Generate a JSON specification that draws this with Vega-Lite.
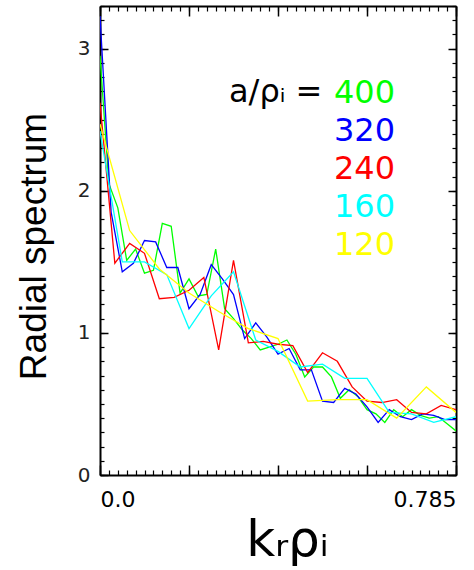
{
  "$schema": "https://vega.github.io/schema/vega-lite/v6.json",
  "width": 356,
  "height": 469,
  "autosize": {"type": "none"},
  "padding": {"left": 100, "top": 6, "right": 18, "bottom": 95},
  "background": "white",
  "config": {
    "view": {"stroke": null},
    "axis": {"domainColor": "black", "tickColor": "black", "domainWidth": 2, "tickWidth": 1.5, "grid": false, "labelFont": "DejaVu Sans", "titleFont": "Liberation Sans", "labelColor": "black", "titleColor": "black", "titleFontWeight": "normal"},
    "legend": {"labelFont": "DejaVu Sans", "titleFont": "DejaVu Sans"}
  },
  "data": {"values": [
    {"a":"400","k":0,"s":2.95},{"a":"400","k":0.0196,"s":2.05},{"a":"400","k":0.0393,"s":1.88},{"a":"400","k":0.0589,"s":1.51},{"a":"400","k":0.0785,"s":1.59},{"a":"400","k":0.0981,"s":1.42},{"a":"400","k":0.1178,"s":1.44},{"a":"400","k":0.1374,"s":1.77},{"a":"400","k":0.157,"s":1.75},{"a":"400","k":0.1766,"s":1.28},{"a":"400","k":0.1963,"s":1.38},{"a":"400","k":0.2159,"s":1.26},{"a":"400","k":0.2355,"s":1.27},{"a":"400","k":0.2551,"s":1.59},{"a":"400","k":0.2748,"s":1.17},{"a":"400","k":0.2944,"s":1.10},{"a":"400","k":0.314,"s":1.02},{"a":"400","k":0.3336,"s":0.96},{"a":"400","k":0.3533,"s":0.88},{"a":"400","k":0.3729,"s":0.90},{"a":"400","k":0.3925,"s":0.92},{"a":"400","k":0.4121,"s":0.95},{"a":"400","k":0.4318,"s":0.85},{"a":"400","k":0.4514,"s":0.69},{"a":"400","k":0.471,"s":0.76},{"a":"400","k":0.4906,"s":0.76},{"a":"400","k":0.5103,"s":0.69},{"a":"400","k":0.5299,"s":0.54},{"a":"400","k":0.5495,"s":0.60},{"a":"400","k":0.5691,"s":0.55},{"a":"400","k":0.5888,"s":0.46},{"a":"400","k":0.6084,"s":0.43},{"a":"400","k":0.628,"s":0.37},{"a":"400","k":0.6476,"s":0.46},{"a":"400","k":0.6673,"s":0.41},{"a":"400","k":0.6869,"s":0.46},{"a":"400","k":0.7065,"s":0.42},{"a":"400","k":0.7261,"s":0.40},{"a":"400","k":0.7458,"s":0.41},{"a":"400","k":0.7654,"s":0.36},{"a":"400","k":0.785,"s":0.31},
    {"a":"320","k":0,"s":3.23},{"a":"320","k":0.0245,"s":1.85},{"a":"320","k":0.0491,"s":1.43},{"a":"320","k":0.0736,"s":1.49},{"a":"320","k":0.0981,"s":1.65},{"a":"320","k":0.1227,"s":1.64},{"a":"320","k":0.1472,"s":1.46},{"a":"320","k":0.1717,"s":1.46},{"a":"320","k":0.1963,"s":1.17},{"a":"320","k":0.2208,"s":1.27},{"a":"320","k":0.2453,"s":1.48},{"a":"320","k":0.2698,"s":1.38},{"a":"320","k":0.2944,"s":1.27},{"a":"320","k":0.3189,"s":0.96},{"a":"320","k":0.3434,"s":1.07},{"a":"320","k":0.368,"s":0.97},{"a":"320","k":0.3925,"s":0.85},{"a":"320","k":0.417,"s":0.89},{"a":"320","k":0.4416,"s":0.74},{"a":"320","k":0.4661,"s":0.74},{"a":"320","k":0.4906,"s":0.52},{"a":"320","k":0.5152,"s":0.51},{"a":"320","k":0.5397,"s":0.61},{"a":"320","k":0.5642,"s":0.57},{"a":"320","k":0.5888,"s":0.48},{"a":"320","k":0.6133,"s":0.37},{"a":"320","k":0.6378,"s":0.46},{"a":"320","k":0.6623,"s":0.41},{"a":"320","k":0.6869,"s":0.39},{"a":"320","k":0.7114,"s":0.43},{"a":"320","k":0.7359,"s":0.42},{"a":"320","k":0.7605,"s":0.39},{"a":"320","k":0.785,"s":0.39},
    {"a":"240","k":0,"s":2.62},{"a":"240","k":0.0327,"s":1.49},{"a":"240","k":0.0654,"s":1.63},{"a":"240","k":0.0981,"s":1.56},{"a":"240","k":0.1308,"s":1.24},{"a":"240","k":0.1635,"s":1.25},{"a":"240","k":0.1963,"s":1.30},{"a":"240","k":0.229,"s":1.39},{"a":"240","k":0.2617,"s":0.88},{"a":"240","k":0.2944,"s":1.51},{"a":"240","k":0.3271,"s":0.93},{"a":"240","k":0.3598,"s":0.94},{"a":"240","k":0.3925,"s":0.92},{"a":"240","k":0.4252,"s":0.91},{"a":"240","k":0.4579,"s":0.72},{"a":"240","k":0.4906,"s":0.86},{"a":"240","k":0.5233,"s":0.80},{"a":"240","k":0.556,"s":0.62},{"a":"240","k":0.5888,"s":0.52},{"a":"240","k":0.6215,"s":0.51},{"a":"240","k":0.6542,"s":0.53},{"a":"240","k":0.6869,"s":0.44},{"a":"240","k":0.7196,"s":0.43},{"a":"240","k":0.7523,"s":0.49},{"a":"240","k":0.785,"s":0.46},
    {"a":"160","k":0,"s":2.42},{"a":"160","k":0.0491,"s":1.50},{"a":"160","k":0.0981,"s":1.50},{"a":"160","k":0.1472,"s":1.41},{"a":"160","k":0.1963,"s":1.03},{"a":"160","k":0.2453,"s":1.26},{"a":"160","k":0.2944,"s":1.43},{"a":"160","k":0.3434,"s":0.95},{"a":"160","k":0.3925,"s":0.87},{"a":"160","k":0.4416,"s":0.76},{"a":"160","k":0.4906,"s":0.78},{"a":"160","k":0.5397,"s":0.68},{"a":"160","k":0.5888,"s":0.68},{"a":"160","k":0.6378,"s":0.44},{"a":"160","k":0.6869,"s":0.43},{"a":"160","k":0.7359,"s":0.37},{"a":"160","k":0.785,"s":0.41},
    {"a":"120","k":0,"s":2.47},{"a":"120","k":0.0654,"s":1.72},{"a":"120","k":0.1308,"s":1.45},{"a":"120","k":0.1963,"s":1.28},{"a":"120","k":0.2617,"s":1.15},{"a":"120","k":0.3271,"s":1.03},{"a":"120","k":0.3925,"s":0.96},{"a":"120","k":0.4579,"s":0.52},{"a":"120","k":0.5233,"s":0.53},{"a":"120","k":0.5888,"s":0.53},{"a":"120","k":0.6542,"s":0.40},{"a":"120","k":0.7196,"s":0.62},{"a":"120","k":0.785,"s":0.44}
  ]},
  "resolve": {"axis": {"x": "independent", "y": "independent"}},
  "layer": [
    {
      "mark": {"type": "line", "strokeWidth": 1.3, "clip": true},
      "encoding": {
        "x": {"field": "k", "type": "quantitative", "scale": {"domain": [0, 0.785], "nice": false, "zero": false},
          "axis": {"orient": "bottom", "values": [0, 0.19625, 0.3925, 0.58875, 0.785], "tickSize": -10, "labelPadding": 24, "labelFontSize": 22, "labelFlush": true, "labelFlushOffset": 0,
            "labelExpr": "datum.value == 0 ? '0.0' : (datum.value > 0.78 ? '0.785' : '')",
            "title": "kᵣρᵢ", "titleFont": "DejaVu Sans", "titleFontSize": 50, "titleX": 187, "titleY": 80, "titleBaseline": "alphabetic"}},
        "y": {"field": "s", "type": "quantitative", "scale": {"domain": [0, 3.3], "nice": false},
          "axis": {"orient": "left", "values": [0, 1, 2, 3], "tickSize": -8, "labelPadding": 18, "labelFontSize": 20, "labelBaseline": "middle", "labelColor": "#222222",
            "title": "Radial spectrum", "titleFontSize": 37, "titleX": -55, "titleY": 240, "titleBaseline": "alphabetic", "titleAngle": -90}},
        "color": {"field": "a", "type": "nominal", "sort": null,
          "scale": {"domain": ["400", "320", "240", "160", "120"], "range": ["#00ff00", "#0000ff", "#ff0000", "#00ffff", "#ffff00"]},
          "legend": {"orient": "none", "legendX": 129, "legendY": 71, "title": "a/ρᵢ =", "titleOrient": "left", "titleAnchor": "start", "titleBaseline": "top", "titleFontSize": 32, "titleFontWeight": "normal", "titleColor": "black", "titlePadding": -21,
            "labelFontSize": 32, "symbolSize": 0, "symbolStrokeWidth": 0, "symbolOpacity": 0, "labelOffset": 0, "rowPadding": 6, "padding": 0,
            "encode": {"labels": {"update": {"fill": {"scale": "color", "field": "value"}}}}}}
      }
    },
    {
      "mark": {"type": "point", "opacity": 0},
      "encoding": {
        "x": {"field": "k", "type": "quantitative", "axis": {"orient": "bottom", "values": [0,0.019625,0.03925,0.058875,0.0785,0.098125,0.11775,0.137375,0.157,0.176625,0.19625,0.215875,0.2355,0.255125,0.27475,0.294375,0.314,0.333625,0.35325,0.372875,0.3925,0.412125,0.43175,0.451375,0.471,0.490625,0.51025,0.529875,0.5495,0.569125,0.58875,0.608375,0.628,0.647625,0.66725,0.686875,0.7065,0.726125,0.74575,0.765375,0.785], "tickSize": -5, "tickWidth": 1.2, "labels": false, "domain": false, "title": null}},
        "y": {"field": "s", "type": "quantitative", "axis": {"orient": "left", "values": [0,0.1,0.2,0.3,0.4,0.5,0.6,0.7,0.8,0.9,1,1.1,1.2,1.3,1.4,1.5,1.6,1.7,1.8,1.9,2,2.1,2.2,2.3,2.4,2.5,2.6,2.7,2.8,2.9,3,3.1,3.2,3.3], "tickSize": -4, "tickWidth": 1.2, "labels": false, "domain": false, "title": null}}
      }
    },
    {
      "mark": {"type": "point", "opacity": 0},
      "encoding": {
        "x": {"field": "k", "type": "quantitative", "axis": {"orient": "top", "values": [0, 0.19625, 0.3925, 0.58875, 0.785], "tickSize": -10, "labels": false, "title": null}},
        "y": {"field": "s", "type": "quantitative", "axis": {"orient": "right", "values": [0, 1, 2, 3], "tickSize": -8, "labels": false, "title": null}}
      }
    },
    {
      "mark": {"type": "point", "opacity": 0},
      "encoding": {
        "x": {"field": "k", "type": "quantitative", "axis": {"orient": "top", "values": [0,0.019625,0.03925,0.058875,0.0785,0.098125,0.11775,0.137375,0.157,0.176625,0.19625,0.215875,0.2355,0.255125,0.27475,0.294375,0.314,0.333625,0.35325,0.372875,0.3925,0.412125,0.43175,0.451375,0.471,0.490625,0.51025,0.529875,0.5495,0.569125,0.58875,0.608375,0.628,0.647625,0.66725,0.686875,0.7065,0.726125,0.74575,0.765375,0.785], "tickSize": -5, "tickWidth": 1.2, "labels": false, "domain": false, "title": null}},
        "y": {"field": "s", "type": "quantitative", "axis": {"orient": "right", "values": [0,0.1,0.2,0.3,0.4,0.5,0.6,0.7,0.8,0.9,1,1.1,1.2,1.3,1.4,1.5,1.6,1.7,1.8,1.9,2,2.1,2.2,2.3,2.4,2.5,2.6,2.7,2.8,2.9,3,3.1,3.2,3.3], "tickSize": -4, "tickWidth": 1.2, "labels": false, "domain": false, "title": null}}
      }
    }
  ]
}
